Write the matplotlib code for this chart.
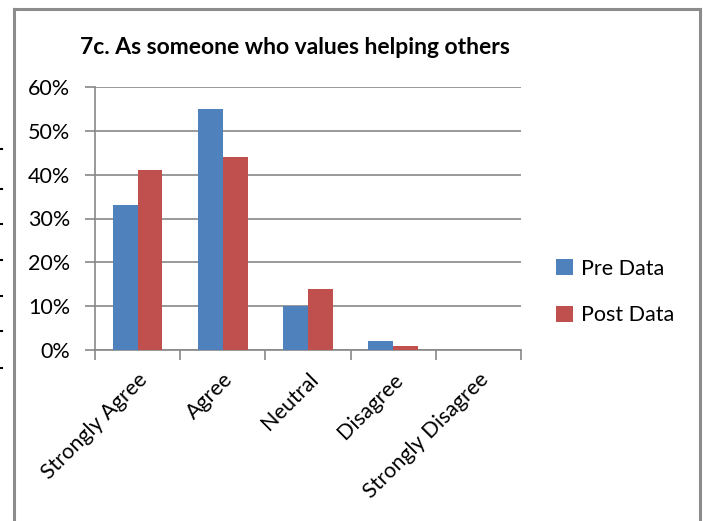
import numpy as np
import matplotlib.pyplot as plt
from matplotlib.lines import Line2D

categories = ['Strongly Agree', 'Agree', 'Neutral', 'Disagree', 'Strongly Disagree']
pre_data = [33, 55, 10, 2, 0]
post_data = [41, 44, 14, 1, 0]
y_ticks = [0, 10, 20, 30, 40, 50, 60]

plt.rcParams['font.family'] = ['Lato', 'DejaVu Sans']

W, H = 703, 521
fig = plt.figure(figsize=(W / 100, H / 100), dpi=100)

# outer chart border (no bottom line, it runs off the image)
border = '#8c8c8c'
fig.add_artist(Line2D([14 / W, 14 / W], [0, 1 - 9 / H], color=border, lw=2.2))
fig.add_artist(Line2D([14 / W, 700 / W], [1 - 9 / H, 1 - 9 / H], color=border, lw=2.2))
fig.add_artist(Line2D([700 / W, 700 / W], [0, 1 - 9 / H], color=border, lw=2.2))

# little stray marks at the far left edge
for yy in [149, 189, 224, 260, 296, 331, 368]:
    fig.add_artist(Line2D([0, 2 / W], [1 - yy / H, 1 - yy / H], color='black', lw=1.5))

ax = fig.add_axes([95 / W, 1 - 350 / H, (521 - 95) / W, (350 - 87) / H])

x = np.arange(len(categories))
bw = 0.29
ax.bar(x - bw / 2, pre_data, bw, color='#4F81BD', label='Pre Data', zorder=3)
ax.bar(x + bw / 2, post_data, bw, color='#C0504D', label='Post Data', zorder=3)

grid = '#888888'
ax.set_ylim(0, 60)
ax.set_xlim(-0.5, len(categories) - 0.5)
ax.set_yticks(y_ticks)
ax.set_yticklabels([f'{v}%' for v in y_ticks], fontsize=15.5)
ax.yaxis.grid(True, color=grid, lw=1.2, zorder=0)

# category boundary ticks on the x axis
ax.set_xticks(np.arange(-0.5, len(categories)), minor=False)
ax.set_xticklabels([])
ax.set_xticks(x, minor=True)
ax.set_xticklabels(categories, minor=True, rotation=45, ha='right',
                   rotation_mode='anchor', fontsize=15.5)
ax.tick_params(axis='x', which='major', length=7, color=grid, width=1.2)
ax.tick_params(axis='x', which='minor', length=0, pad=14)
ax.tick_params(axis='y', length=7, color=grid, width=1.2, pad=11)

for s in ['top', 'right']:
    ax.spines[s].set_visible(False)
ax.spines['left'].set_color(grid)
ax.spines['bottom'].set_color(grid)
ax.spines['left'].set_linewidth(1.2)
ax.spines['bottom'].set_linewidth(1.2)

fig.text(80 / W, 1 - 47 / H, '7c. As someone who values helping others',
         fontsize=16.5, fontweight='bold', va='center', ha='left')

ax.legend(loc='center left', bbox_to_anchor=(537 / W, 1 - 292 / H),
          bbox_transform=fig.transFigure, frameon=False, fontsize=15.5,
          handlelength=0.75, handleheight=0.75, labelspacing=1.25, handletextpad=0.4)

fig.savefig('out.png', dpi=100)
